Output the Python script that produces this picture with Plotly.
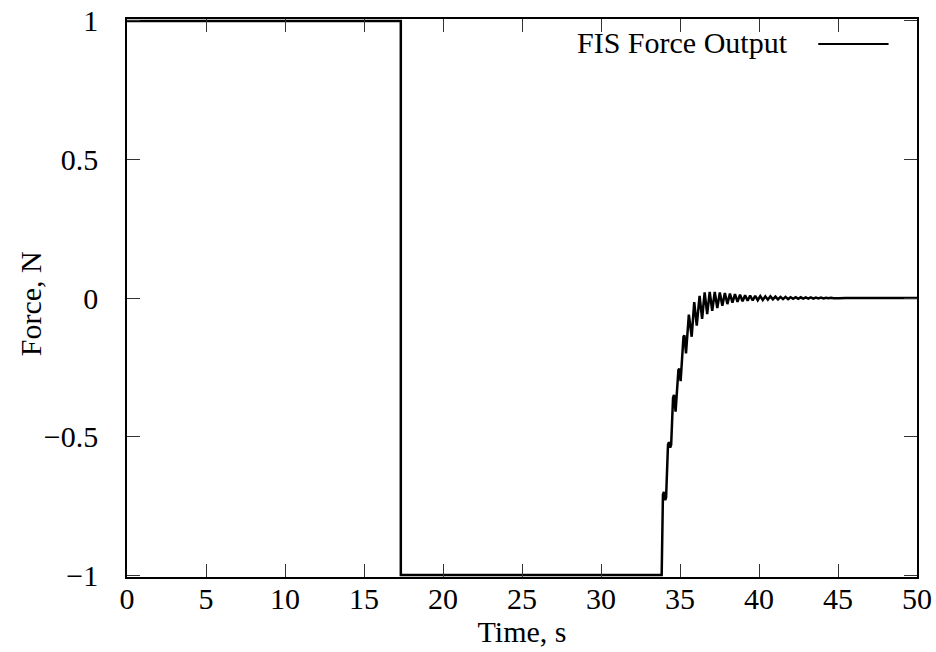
import plotly.graph_objects as go

# Force output data (time in s, force in N)
time_s = [0.0, 17.33, 17.33, 33.82, 33.84,
          33.92, 33.98, 34.06, 34.12,
          34.24, 34.30, 34.38, 34.44,
          34.56, 34.62, 34.72,
          34.90, 34.96, 35.04,
          35.22, 35.28, 35.38,
          35.56, 35.74, 35.90, 36.06, 36.24, 36.40, 36.56, 36.72,
          36.88, 37.04, 37.20, 37.36, 37.52, 37.68, 37.84, 38.00,
          38.16, 38.32, 38.48, 38.64, 38.80, 38.96, 39.12, 39.28,
          39.44, 39.60, 39.76, 39.92, 40.08, 40.24, 40.40, 40.56,
          40.72, 40.88, 41.04, 41.20, 41.36, 41.52, 41.68, 41.84,
          42.00, 42.16, 42.32, 42.48, 42.64, 42.80, 42.96, 43.12,
          43.28, 43.44, 43.60, 43.76, 43.92, 44.08, 44.24, 44.40,
          44.56, 44.72, 44.88, 45.04, 45.50, 50.0]
force_n = [1.0, 1.0, -1.0, -1.0, -1.0,
           -0.71, -0.70, -0.73, -0.72,
           -0.53, -0.52, -0.54, -0.53,
           -0.36, -0.35, -0.41,
           -0.26, -0.255, -0.30,
           -0.14, -0.135, -0.20,
           -0.06, -0.14, -0.015, -0.10, 0.008, -0.075, 0.02, -0.058,
           0.022, -0.046, 0.022, -0.036, 0.020, -0.028, 0.018, -0.022,
           0.016, -0.017, 0.014, -0.014, 0.012, -0.012, 0.010, -0.010,
           0.009, -0.009, 0.008, -0.008, 0.007, -0.007, 0.006, -0.006,
           0.006, -0.005, 0.005, -0.005, 0.004, -0.004, 0.004, -0.004,
           0.003, -0.003, 0.003, -0.003, 0.0025, -0.0025, 0.002, -0.002,
           0.002, -0.002, 0.0015, -0.0015, 0.0015, -0.0015, 0.001, -0.001,
           0.001, -0.001, 0.0005, -0.0005, 0.0, 0.0]

x_ticks = [0, 5, 10, 15, 20, 25, 30, 35, 40, 45, 50]
y_ticks = [-1, -0.5, 0, 0.5, 1]
y_tick_text = ["\u22121", "\u22120.5", "0", "0.5", "1"]
series_name = "FIS Force Output"
x_title = "Time, s"
y_title = "Force, N"

FONT = "Liberation Serif"
FS = 30

fig = go.Figure()
fig.add_trace(go.Scatter(x=time_s, y=force_n, mode="lines",
                         line=dict(color="black", width=2.5),
                         name=series_name, showlegend=False))

axis_common = dict(showline=True, linecolor="black", linewidth=1.5,
                   mirror="ticks", ticks="inside", ticklen=13,
                   tickwidth=1, tickcolor="#333333", showgrid=False,
                   zeroline=False, automargin=False,
                   tickfont=dict(family=FONT, size=FS, color="black"))

fig.update_xaxes(range=[0, 50], tickvals=x_ticks, ticklabelstandoff=-6,
                 title=dict(text=x_title, font=dict(family=FONT, size=FS, color="black"), standoff=6),
                 **axis_common)
fig.update_yaxes(range=[-1.0072, 1.0072], tickvals=y_ticks, ticktext=y_tick_text,
                 ticklabelstandoff=21,
                 **axis_common)

# y-axis title
fig.add_annotation(xref="paper", yref="paper", x=-0.122, y=0.49,
                   xanchor="center", yanchor="middle", showarrow=False, textangle=-90,
                   text=y_title, font=dict(family=FONT, size=FS, color="black"))

# legend (text left, sample line right)
fig.add_annotation(xref="paper", yref="paper", x=0.839, y=0.958,
                   xanchor="right", yanchor="middle", showarrow=False,
                   text=series_name, font=dict(family=FONT, size=FS, color="black"))
fig.add_shape(type="line", xref="paper", yref="paper", x0=0.875, x1=0.964,
              y0=0.955, y1=0.955, line=dict(color="black", width=2))

fig.update_layout(width=936, height=652, margin=dict(l=127, r=19, t=19, b=75),
                  paper_bgcolor="white", plot_bgcolor="white",
                  font=dict(family=FONT, size=FS, color="black"))

fig.write_html("out.html")
